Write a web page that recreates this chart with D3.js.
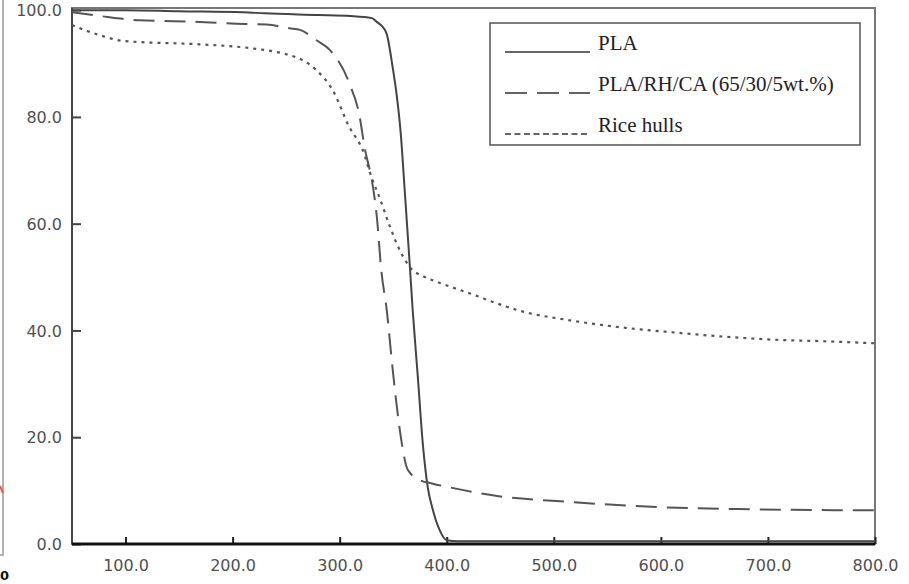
<!DOCTYPE html>
<html>
<head>
<meta charset="utf-8">
<script src="https://cdn.jsdelivr.net/npm/d3@7"></script>
<style>
  html, body { margin: 0; padding: 0; background: #fff; }
  svg { display: block; }
  .tick-label { font-family: 'DejaVu Sans', Verdana, sans-serif; font-size: 16px; fill: #505050; }
  .legend-text { font-family: 'Liberation Serif', 'Times New Roman', serif; font-size: 21px; fill: #222; }
</style>
</head>
<body>
<svg id="chart"></svg>
<script>
// 数据：温度 (°C) 与残余质量 (%)
const plaTemp = [50, 100, 150, 210, 230, 280, 310, 330, 334.6, 340, 344, 349.5, 353, 357, 361, 365.4, 368.2, 373, 377.6, 382.2, 387, 393.4, 400, 410, 500, 600, 700, 800]
const plaMass = [100, 100, 99.8, 99.6, 99.4, 99.1, 98.9, 98.5, 97.8, 96.9, 95.5, 89.3, 84.5, 77, 65.5, 52.5, 43.8, 31.3, 18.9, 10.7, 6.4, 2.6, 0.7, 0.5, 0.5, 0.5, 0.5, 0.5]

const compTemp = [50, 76, 113, 169, 211, 232, 253, 263, 278, 291, 309, 318.7, 323, 331, 334.6, 339, 344, 348.6, 353, 358, 363.6, 374.8, 387, 403, 450, 506, 599, 683, 800]
const compMass = [99.6, 98.9, 98.1, 97.8, 97.4, 97.3, 96.6, 96.3, 94.4, 92.5, 86.3, 80, 74.6, 67, 61.5, 51, 43.8, 34.5, 26.4, 18.9, 13.9, 12.0, 11.3, 10.6, 8.9, 8.0, 6.9, 6.5, 6.3]

const riceTemp = [50, 76, 99, 169, 216, 247, 253, 278, 293.5, 309, 321.5, 331, 335.5, 346.7, 353, 365.4, 381, 395, 412, 425, 445, 468, 515, 562, 608, 655, 702, 749, 800]
const riceMass = [97.2, 95.3, 94.2, 93.6, 92.9, 91.9, 91.6, 88.8, 85, 78.1, 73.8, 68, 65.8, 59.6, 56.4, 51.9, 49.9, 48.8, 47.6, 46.7, 45.2, 43.7, 41.9, 40.6, 39.7, 38.9, 38.3, 38.0, 37.6]

const xTicks = [100, 200, 300, 400, 500, 600, 700, 800]
const yTicks = [0, 20, 40, 60, 80, 100]
const seriesNames = ['PLA', 'PLA/RH/CA (65/30/5wt.%)', 'Rice hulls']

const W = 909, H = 584
const margin = { top: 8, right: 34, bottom: 40, left: 72 }
const innerW = W - margin.left - margin.right
const innerH = H - margin.top - margin.bottom

const svg = d3.select('#chart').attr('width', W).attr('height', H)

// 左侧相邻图的残边
svg.append('path')
  .attr('d', 'M3,0 V555 H0')
  .attr('fill', 'none').attr('stroke', '#999').attr('stroke-width', 1.5)
svg.append('line')
  .attr('x1', 0).attr('x2', 3).attr('y1', 486).attr('y2', 493)
  .attr('stroke', '#e06050').attr('stroke-width', 2)
svg.append('text')
  .attr('x', 0).attr('y', 580)
  .attr('font-family', 'DejaVu Sans, sans-serif').attr('font-weight', 'bold')
  .attr('font-size', 13).attr('fill', '#111').text('0')

const x = d3.scaleLinear().domain([50, 800]).range([0, innerW])
const y = d3.scaleLinear().domain([0, 100.4]).range([innerH, 0])

const g = svg.append('g').attr('transform', `translate(${margin.left},${margin.top})`)

// 外框
g.append('rect')
  .attr('x', 0).attr('y', 0).attr('width', innerW).attr('height', innerH)
  .attr('fill', 'none').attr('stroke', '#777').attr('stroke-width', 2)

// 坐标轴
const xAxis = d3.axisBottom(x).tickValues(xTicks).tickSize(-7).tickFormat(d3.format('.1f'))
const yAxis = d3.axisLeft(y).tickValues(yTicks).tickSize(-9).tickFormat(d3.format('.1f'))

const xAxisG = g.append('g').attr('transform', `translate(0,${innerH})`).call(xAxis)
xAxisG.select('.domain').remove()
xAxisG.selectAll('.tick line').attr('stroke', '#222').attr('stroke-width', 2)
xAxisG.selectAll('.tick text').attr('class', 'tick-label').attr('dy', null).attr('y', 27)

const yAxisG = g.append('g').call(yAxis)
yAxisG.select('.domain').remove()
yAxisG.selectAll('.tick line').attr('stroke', '#444').attr('stroke-width', 2)
yAxisG.selectAll('.tick text').attr('class', 'tick-label').attr('x', -10).attr('dy', '0.35em')

g.append('line')
  .attr('x1', 0).attr('x2', 0).attr('y1', 0).attr('y2', innerH)
  .attr('stroke', '#444').attr('stroke-width', 2)
g.append('line')
  .attr('x1', 0).attr('x2', innerW).attr('y1', innerH).attr('y2', innerH)
  .attr('stroke', '#111').attr('stroke-width', 3)

// 曲线
const line = d3.line().x(d => x(d[0])).y(d => y(d[1])).curve(d3.curveMonotoneX)
const series = [
  { temp: plaTemp, mass: plaMass, dash: null, color: '#444', width: 2 },
  { temp: compTemp, mass: compMass, dash: '21,10', color: '#555', width: 2 },
  { temp: riceTemp, mass: riceMass, dash: '3,5', color: '#555', width: 2.2 },
]
series.forEach(s => {
  g.append('path')
    .datum(d3.zip(s.temp, s.mass))
    .attr('d', line)
    .attr('fill', 'none')
    .attr('stroke', s.color)
    .attr('stroke-width', s.width)
    .attr('stroke-dasharray', s.dash)
})

// 图例
const legendG = svg.append('g')
legendG.append('rect')
  .attr('x', 490).attr('y', 23).attr('width', 370).attr('height', 122)
  .attr('fill', '#fff').attr('stroke', '#555').attr('stroke-width', 1.5)
const legendDash = [null, '22,10', '6,3.5']
seriesNames.forEach((name, i) => {
  const ly = 52 + i * 41
  legendG.append('line')
    .attr('x1', 505).attr('x2', 590).attr('y1', ly).attr('y2', ly)
    .attr('stroke', '#333').attr('stroke-width', 1.5)
    .attr('stroke-dasharray', legendDash[i])
  legendG.append('text')
    .attr('class', 'legend-text')
    .attr('x', 598).attr('y', ly - 2)
    .text(name)
})
</script>
</body>
</html>
